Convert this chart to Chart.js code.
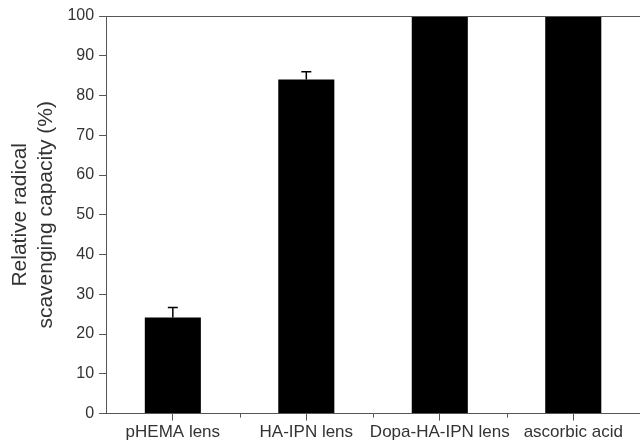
<!DOCTYPE html>
<html>
<head>
<meta charset="utf-8">
<script src="https://cdn.jsdelivr.net/npm/chart.js@4/dist/chart.umd.min.js"></script>
<style>
    html, body { margin: 0; padding: 0; background: #fff; overflow: hidden; }
    #wrap { width: 640px; height: 441px; position: relative; }
</style>
</head>
<body>
<div id="wrap"><canvas id="scavengingChart"></canvas></div>
<script>
// values
const samples = ['pHEMA lens', 'HA-IPN lens', 'Dopa-HA-IPN lens', 'ascorbic acid'];
const capacity = [24.2, 84.0, 100, 100];
const capacityErr = [2.5, 2.0, 0, 0];
const yTicks = [0, 10, 20, 30, 40, 50, 60, 70, 80, 90, 100];

const axisColor = '#555';
const textColor = '#333';

// error bars + frame line + minor x ticks
const extrasPlugin = {
    id: 'extras',
    afterDatasetsDraw(chart) {
        const ctx = chart.ctx;
        const x = chart.scales.x;
        const y = chart.scales.y;
        const area = chart.chartArea;
        ctx.save();

        ctx.strokeStyle = '#000';
        ctx.lineWidth = 1.5;
        capacity.forEach((v, i) => {
            const err = capacityErr[i];
            if (!err) return;
            const px = x.getPixelForValue(i);
            const top = y.getPixelForValue(v + err);
            const base = y.getPixelForValue(v);
            ctx.beginPath();
            ctx.moveTo(px, base);
            ctx.lineTo(px, top);
            ctx.moveTo(px - 5, top);
            ctx.lineTo(px + 5, top);
            ctx.stroke();
        });

        ctx.strokeStyle = axisColor;
        ctx.lineWidth = 1;
        ctx.beginPath();
        ctx.moveTo(area.left, area.top + 0.5);
        ctx.lineTo(area.right, area.top + 0.5);
        // minor ticks between categories
        for (let i = 0; i < samples.length - 1; i++) {
            const px = Math.round((x.getPixelForValue(i) + x.getPixelForValue(i + 1)) / 2) + 0.5;
            ctx.moveTo(px, area.bottom);
            ctx.lineTo(px, area.bottom + 4);
        }
        ctx.stroke();
        ctx.restore();
    }
};

new Chart(document.getElementById('scavengingChart'), {
    type: 'bar',
    data: {
        labels: samples,
        datasets: [{
            data: capacity,
            backgroundColor: '#000',
            borderColor: '#000',
            borderWidth: 0,
            barPercentage: 0.42,
            categoryPercentage: 1
        }]
    },
    options: {
        responsive: true,
        maintainAspectRatio: false,
        animation: false,
        layout: { padding: { left: 8, top: 16, right: 0, bottom: -4 } },
        plugins: {
            legend: { display: false },
            tooltip: { enabled: false }
        },
        scales: {
            x: {
                grid: {
                    display: true,
                    drawOnChartArea: false,
                    offset: false,
                    tickLength: 7,
                    color: axisColor
                },
                border: { color: axisColor, width: 1 },
                ticks: {
                    color: textColor,
                    font: { family: 'Liberation Sans, Arial', size: 17 },
                    padding: 2,
                    autoSkip: false,
                    maxRotation: 0
                }
            },
            y: {
                min: 0,
                max: 100,
                afterBuildTicks: axis => {
                    const all = [];
                    yTicks.forEach((t, i) => {
                        all.push({ value: t });
                        if (i < yTicks.length - 1) all.push({ value: (t + yTicks[i + 1]) / 2 });
                    });
                    axis.ticks = all;
                },
                grid: {
                    display: true,
                    drawOnChartArea: false,
                    tickLength: 7,
                    color: axisColor
                },
                border: { color: axisColor, width: 1 },
                ticks: {
                    color: textColor,
                    font: { family: 'Liberation Sans, Arial', size: 16 },
                    padding: 5,
                    callback: v => (yTicks.includes(v) ? v : '')
                },
                title: {
                    display: true,
                    text: ['Relative radical', 'scavenging capacity (%)'],
                    color: textColor,
                    font: { family: 'Liberation Sans, Arial', size: 21 },
                    padding: { top: 0, bottom: 4 }
                }
            }
        }
    },
    plugins: [extrasPlugin]
});
</script>
</body>
</html>
